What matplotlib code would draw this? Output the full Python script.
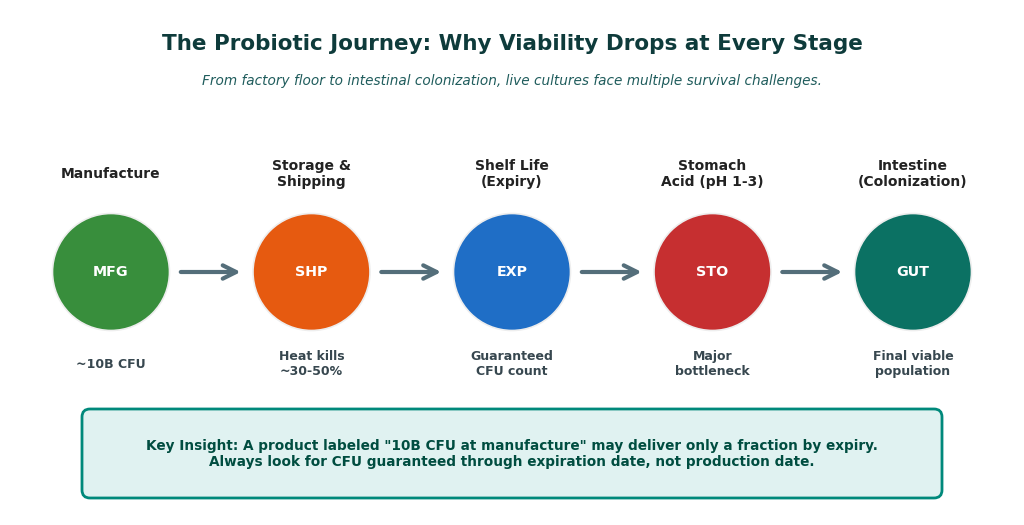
"""
Probiotic journey diagram: five stages with viability notes and a key insight box.
"""

import matplotlib.pyplot as plt
from matplotlib.patches import Circle, FancyBboxPatch

STAGE_TITLES = [
    "Manufacture",
    "Storage &\nShipping",
    "Shelf Life\n(Expiry)",
    "Stomach\nAcid (pH 1-3)",
    "Intestine\n(Colonization)",
]
STAGE_CODES = ["MFG", "SHP", "EXP", "STO", "GUT"]
STAGE_NOTES = [
    "~10B CFU",
    "Heat kills\n~30-50%",
    "Guaranteed\nCFU count",
    "Major\nbottleneck",
    "Final viable\npopulation",
]
STAGE_COLORS = ["#388E3C", "#E65A10", "#1F6EC6", "#C62F30", "#0B7163"]

TITLE = "The Probiotic Journey: Why Viability Drops at Every Stage"
SUBTITLE = "From factory floor to intestinal colonization, live cultures face multiple survival challenges."
INSIGHT = (
    'Key Insight: A product labeled "10B CFU at manufacture" may deliver only a fraction by expiry.\n'
    "Always look for CFU guaranteed through expiration date, not production date."
)

# layout in pixel units of the 1024x525 canvas
FIRST_X = 111
STEP_X = 200.5
CIRCLE_Y = 272
RADIUS = 58.5


def main() -> None:
    fig = plt.figure(figsize=(10.24, 5.25), dpi=100)
    ax = fig.add_axes([0, 0, 1, 1])
    ax.set_xlim(0, 1024)
    ax.set_ylim(525, 0)
    ax.set_aspect("equal")
    ax.axis("off")

    ax.text(512, 44, TITLE, ha="center", va="center", fontsize=15.5,
            fontweight="bold", color="#0E3B3B")
    ax.text(512, 81, SUBTITLE, ha="center", va="center", fontsize=9.85,
            style="italic", color="#1F5C5C")

    for i, (title, code, note, color) in enumerate(
        zip(STAGE_TITLES, STAGE_CODES, STAGE_NOTES, STAGE_COLORS)
    ):
        x = FIRST_X + i * STEP_X
        ax.add_patch(Circle((x, CIRCLE_Y), RADIUS, facecolor=color,
                            edgecolor="#EEEEEE", linewidth=1.2, zorder=2))
        ax.text(x, CIRCLE_Y, code, ha="center", va="center", fontsize=10.3,
                fontweight="bold", color="white", zorder=3)
        ax.text(x, 174, title, ha="center", va="center", fontsize=10,
                fontweight="bold", color="#222222", linespacing=1.15)
        ax.text(x, 364, note, ha="center", va="center", fontsize=9,
                fontweight="bold", color="#37474F", linespacing=1.15)

        if i < len(STAGE_CODES) - 1:
            ax.annotate(
                "", xy=(x + STEP_X - 68, CIRCLE_Y), xytext=(x + 67, CIRCLE_Y),
                arrowprops=dict(arrowstyle="->", color="#546E7A", lw=3,
                                mutation_scale=24),
            )

    box = FancyBboxPatch((82, 409), 860, 89, boxstyle="round,pad=0,rounding_size=8",
                         facecolor="#E0F2F1", edgecolor="#00897B", linewidth=2)
    ax.add_patch(box)
    ax.text(512, 454, INSIGHT, ha="center", va="center", fontsize=9.85,
            fontweight="bold", color="#004D40", linespacing=1.1)

    fig.savefig("out.png", dpi=100, facecolor="white")
    plt.close(fig)


if __name__ == "__main__":
    main()
